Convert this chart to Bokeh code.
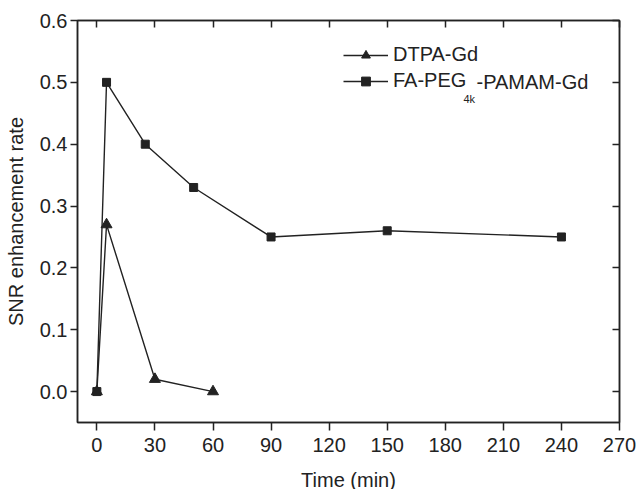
from bokeh.plotting import figure
from bokeh.models import (Range1d, FixedTicker, LinearAxis, Legend, LegendItem,
                          Label, NumeralTickFormatter, CustomJSTickFormatter)
from bokeh.embed import file_html
from bokeh.resources import INLINE

# ---- data ----
dtpa_time = [0, 5, 30, 60]
dtpa_snr = [0.0, 0.27, 0.02, 0.0]
fa_time = [0, 5, 25, 50, 90, 150, 240]
fa_snr = [0.0, 0.50, 0.40, 0.33, 0.25, 0.26, 0.25]
x_ticks = [0, 30, 60, 90, 120, 150, 180, 210, 240, 270]
y_ticks = [0.0, 0.1, 0.2, 0.3, 0.4, 0.5, 0.6]
series_names = ["DTPA-Gd", "FA-PEG", "4k", "-PAMAM-Gd"]

FONT = "Liberation Sans"
INK = "#222222"

p = figure(width=637, height=489, frame_width=542, frame_height=402,
           min_border_left=77, min_border_right=18, min_border_top=20, min_border_bottom=67,
           x_range=Range1d(-10, 270), y_range=Range1d(-0.05, 0.6),
           output_backend="svg", toolbar_location=None, tools="")
p.xgrid.visible = False
p.ygrid.visible = False
p.outline_line_color = INK
p.outline_line_width = 1.5
p.background_fill_color = "white"
p.border_fill_color = "white"

def style_axis(ax, ticks, labels=True):
    ax.ticker = FixedTicker(ticks=ticks)
    ax.minor_tick_line_color = None
    ax.axis_line_color = INK
    ax.axis_line_width = 1.5
    ax.major_tick_line_color = INK
    ax.major_tick_line_width = 1.5
    ax.major_label_text_font = FONT
    ax.major_label_text_font_size = "20px"
    ax.major_label_text_color = INK
    ax.axis_label_text_font = FONT
    ax.axis_label_text_font_size = "20px"
    ax.axis_label_text_font_style = "normal"
    ax.axis_label_text_color = INK
    if not labels:
        ax.formatter = CustomJSTickFormatter(code="return ''")
        ax.major_label_standoff = 0
        ax.major_tick_in = 7
        ax.major_tick_out = 0

xa = p.xaxis[0]
style_axis(xa, x_ticks)
xa.major_tick_in = 0
xa.major_tick_out = 8
xa.major_label_standoff = 7
xa.axis_label = "Time (min)"
xa.axis_label_standoff = 14

ya = p.yaxis[0]
style_axis(ya, y_ticks)
ya.major_tick_in = 0
ya.major_tick_out = 7
ya.major_label_standoff = 3
ya.formatter = NumeralTickFormatter(format="0.0")
ya.axis_label = "SNR enhancement rate"
ya.axis_label_standoff = 10

top = LinearAxis()
style_axis(top, x_ticks, labels=False)
p.add_layout(top, "above")
right = LinearAxis()
style_axis(right, y_ticks, labels=False)
p.add_layout(right, "right")

l1 = p.line(dtpa_time, dtpa_snr, line_color=INK, line_width=1.4)
s1 = p.scatter(dtpa_time, dtpa_snr, marker="triangle", size=11,
               fill_color=INK, line_color=INK)
l2 = p.line(fa_time, fa_snr, line_color=INK, line_width=1.4)
s2 = p.scatter(fa_time, fa_snr, marker="square", size=8,
               fill_color=INK, line_color=INK)

legend = Legend(items=[LegendItem(label=series_names[0], renderers=[l1, s1]),
                       LegendItem(label=series_names[1], renderers=[l2, s2])],
                location=(266, 330), glyph_width=45, glyph_height=22,
                label_height=22, label_standoff=5, spacing=3, padding=0, margin=0,
                border_line_color=None, background_fill_alpha=0,
                label_text_font=FONT, label_text_font_size="20px",
                label_text_color=INK)
p.add_layout(legend, "center")

p.add_layout(Label(x=386, y=324, x_units="screen", y_units="screen", text=series_names[2],
                   text_font=FONT, text_font_size="11px", text_color=INK,
                   text_baseline="middle"))
p.add_layout(Label(x=399, y=341, x_units="screen", y_units="screen", text=series_names[3],
                   text_font=FONT, text_font_size="20px", text_color=INK,
                   text_baseline="middle"))

open("out.html", "w").write(file_html(p, INLINE))
